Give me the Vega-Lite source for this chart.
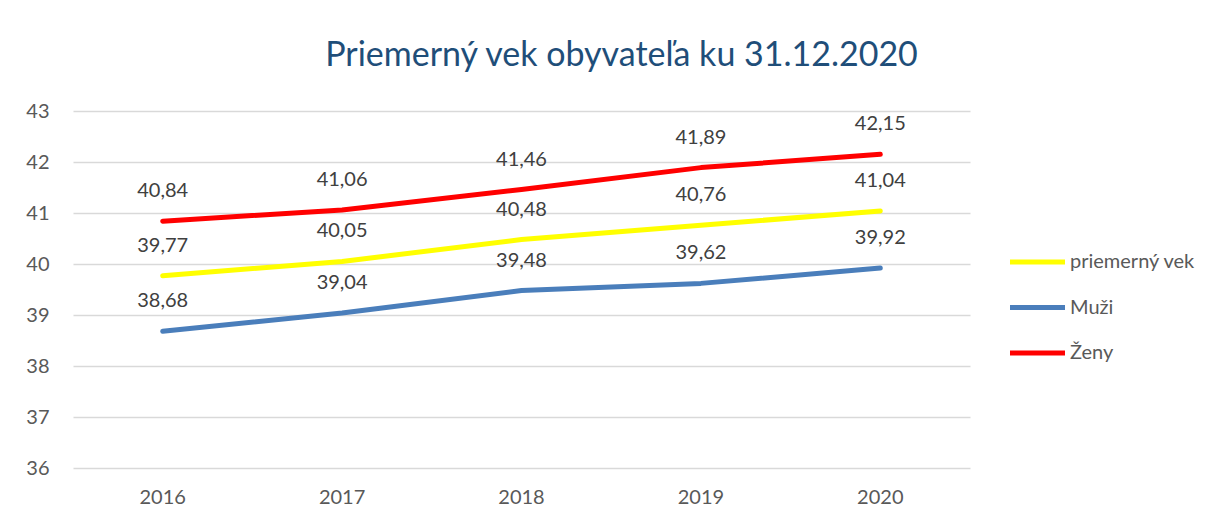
{
  "$schema": "https://vega.github.io/schema/vega-lite/v6.json",
  "autosize": "none",
  "width": 897,
  "height": 357,
  "padding": {"left": 73, "top": 111, "right": 255, "bottom": 54},
  "background": "white",
  "title": {
    "text": "Priemerný vek obyvateľa ku 31.12.2020",
    "font": "Lato",
    "fontSize": 34,
    "fontWeight": "normal",
    "color": "#1F4E79",
    "anchor": "middle",
    "baseline": "alphabetic",
    "offset": 41,
    "dy": 40,
    "dx": 100
  },
  "data": {
    "values": [
      {"rok": "2016", "seria": "priemerný vek", "hodnota": 39.77},
      {"rok": "2017", "seria": "priemerný vek", "hodnota": 40.05},
      {"rok": "2018", "seria": "priemerný vek", "hodnota": 40.48},
      {"rok": "2019", "seria": "priemerný vek", "hodnota": 40.76},
      {"rok": "2020", "seria": "priemerný vek", "hodnota": 41.04},
      {"rok": "2016", "seria": "Muži", "hodnota": 38.68},
      {"rok": "2017", "seria": "Muži", "hodnota": 39.04},
      {"rok": "2018", "seria": "Muži", "hodnota": 39.48},
      {"rok": "2019", "seria": "Muži", "hodnota": 39.62},
      {"rok": "2020", "seria": "Muži", "hodnota": 39.92},
      {"rok": "2016", "seria": "Ženy", "hodnota": 40.84},
      {"rok": "2017", "seria": "Ženy", "hodnota": 41.06},
      {"rok": "2018", "seria": "Ženy", "hodnota": 41.46},
      {"rok": "2019", "seria": "Ženy", "hodnota": 41.89},
      {"rok": "2020", "seria": "Ženy", "hodnota": 42.15}
    ]
  },
  "encoding": {
    "x": {
      "field": "rok",
      "type": "ordinal",
      "scale": {"type": "band", "paddingInner": 0, "paddingOuter": 0},
      "axis": {
        "title": null,
        "labelAngle": 0,
        "domain": false,
        "ticks": false,
        "grid": false,
        "labelFont": "Lato",
        "labelFontSize": 20,
        "labelColor": "#595959",
        "labelPadding": 19
      }
    },
    "y": {
      "field": "hodnota",
      "type": "quantitative",
      "scale": {"domain": [36, 43], "nice": false, "zero": false},
      "axis": {
        "title": null,
        "values": [36, 37, 38, 39, 40, 41, 42, 43],
        "format": "d",
        "domain": false,
        "ticks": false,
        "grid": true,
        "gridColor": "#D9D9D9",
        "gridWidth": 1.5,
        "labelFont": "Lato",
        "labelFontSize": 20,
        "labelColor": "#595959",
        "labelPadding": 24
      }
    }
  },
  "layer": [
    {
      "mark": {"type": "line", "strokeWidth": 5, "strokeCap": "round", "strokeJoin": "round"},
      "encoding": {
        "color": {
          "field": "seria",
          "type": "nominal",
          "scale": {
            "domain": ["priemerný vek", "Muži", "Ženy"],
            "range": ["#FFFF00", "#4A7EBB", "#FF0000"]
          },
          "legend": {
            "title": null,
            "orient": "none",
            "legendX": 934.5,
            "legendY": 121,
            "padding": 0,
            "symbolType": "stroke",
            "symbolSize": 3025,
            "symbolStrokeWidth": 5,
            "rowPadding": 5.5,
            "labelOffset": 2.5,
            "labelFont": "Lato",
            "labelFontSize": 20,
            "labelColor": "#595959",
            "labelLimit": 300
          }
        }
      }
    },
    {
      "mark": {"type": "text", "font": "Lato", "fontSize": 20, "color": "#404040", "baseline": "alphabetic", "dy": -24},
      "encoding": {
        "text": {"field": "hodnota", "type": "quantitative", "format": ".2f"}
      }
    }
  ],
  "config": {
    "view": {"stroke": null},
    "locale": {
      "number": {"decimal": ",", "thousands": "\u00a0", "grouping": [3], "currency": ["", " €"]}
    }
  }
}
